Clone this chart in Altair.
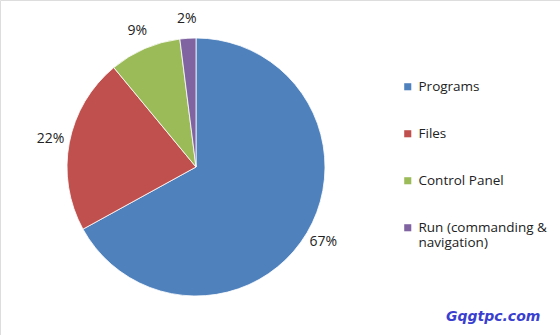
import altair as alt
import pandas as pd

categories = ["Programs", "Files", "Control Panel", "Run (commanding & navigation)"]
values = [67, 22, 9, 2]
pct_labels = ["67%", "22%", "9%", "2%"]
colors = ["#4F81BD", "#C0504D", "#9BBB59", "#8064A2"]

df = pd.DataFrame({
    "category": categories,
    "value": values,
    "label": pct_labels,
    "order": list(range(len(categories))),
})

CX, CY = 196, 167
R = 129
FONT = "Open Sans"

base = alt.Chart(df).encode(
    theta=alt.Theta("value:Q", stack=True),
    order=alt.Order("order:Q"),
)

pie = base.mark_arc(outerRadius=R, stroke="#ffffff", strokeWidth=0.8).encode(
    x=alt.value(CX),
    y=alt.value(CY),
    color=alt.Color(
        "category:N",
        sort=categories,
        scale=alt.Scale(domain=categories, range=colors),
        legend=alt.Legend(
            title=None,
            orient="none",
            legendX=401,
            legendY=80,
            symbolType="square",
            symbolSize=50,
            symbolStrokeWidth=0,
            labelFont=FONT,
            labelFontSize=13.5,
            labelColor="#222222",
            labelOffset=4,
            rowPadding=32,
            labelLimit=200,
            labelExpr="datum.label == 'Run (commanding & navigation)' ? ['Run (commanding &', 'navigation)'] : datum.label",
        ),
    ),
)

text = base.mark_text(radius=148, font=FONT, fontSize=14, color="#222222").encode(
    x=alt.value(CX),
    y=alt.value(CY),
    text="label:N",
)

wm = alt.Chart(pd.DataFrame({"t": ["Gqgtpc.com"]})).mark_text(
    font="DejaVu Sans", fontSize=14, fontWeight="bold", fontStyle="italic",
    color="#3a3fd0", align="left", baseline="middle",
).encode(x=alt.value(446), y=alt.value(317), text="t:N")

chart = alt.layer(pie, text, wm).properties(
    width=560, height=335,
    autosize=alt.AutoSizeParams(type="none"),
    padding=0,
).configure_view(stroke=None).configure(background="#ffffff")

chart.save("out.html", embed_options={"renderer": "svg", "actions": False})
